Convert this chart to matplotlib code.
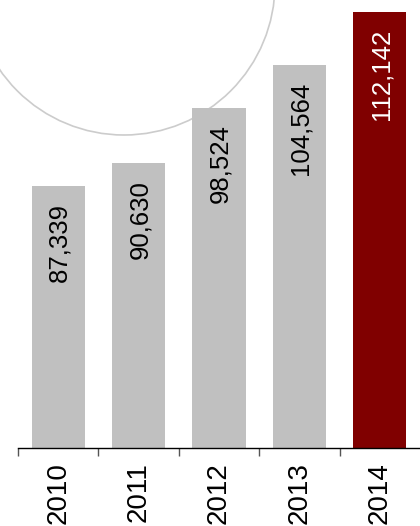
import matplotlib

matplotlib.use("Agg")
import matplotlib.pyplot as plt
from matplotlib.patches import Ellipse

plt.rcParams["font.family"] = ["Liberation Sans", "DejaVu Sans"]

years = ["2010", "2011", "2012", "2013", "2014"]
values = [87339, 90630, 98524, 104564, 112142]
colors = ["#c0c0c0", "#c0c0c0", "#c0c0c0", "#c0c0c0", "#800000"]
text_colors = ["black", "black", "black", "black", "white"]

W, H = 420, 526
fig = plt.figure(figsize=(W / 100, H / 100), dpi=100)
ax = fig.add_axes([18 / W, (H - 448) / H, 402 / W, 448 / H])
ax.patch.set_visible(False)

# decorative circle behind the bars (figure pixel coords -> fraction)
cx, cy, r = 124, -16, 151
circle = Ellipse((cx / W, 1 - cy / H), 2 * r / W, 2 * r / H,
                 transform=fig.transFigure, fill=False,
                 edgecolor="#cccccc", linewidth=1.2, zorder=-1)
fig.patches.append(circle)

x = list(range(len(years)))
ax.bar(x, values, width=0.66, color=colors, zorder=2)

for xi, v, tc in zip(x, values, text_colors):
    ax.annotate(f"{v:,}", (xi, v), xytext=(1, -12), textcoords="offset points",
                rotation=90, ha="center", va="top", fontsize=18.5, color=tc,
                zorder=3)

ax.set_xlim(-0.5, 4.5)
ax.set_ylim(50000, 113900)

ax.set_xticks(x)
ax.set_xticklabels(years, rotation=90, fontsize=20)
ax.tick_params(axis="x", which="major", length=0, pad=10)
ax.set_xticks([i - 0.5 for i in x], minor=True)
ax.tick_params(axis="x", which="minor", length=6, width=1, color="#555555")
ax.set_yticks([])

for side in ["top", "right", "left"]:
    ax.spines[side].set_visible(False)
ax.spines["bottom"].set_linewidth(1)

fig.savefig("out.png", dpi=100)
plt.close(fig)
